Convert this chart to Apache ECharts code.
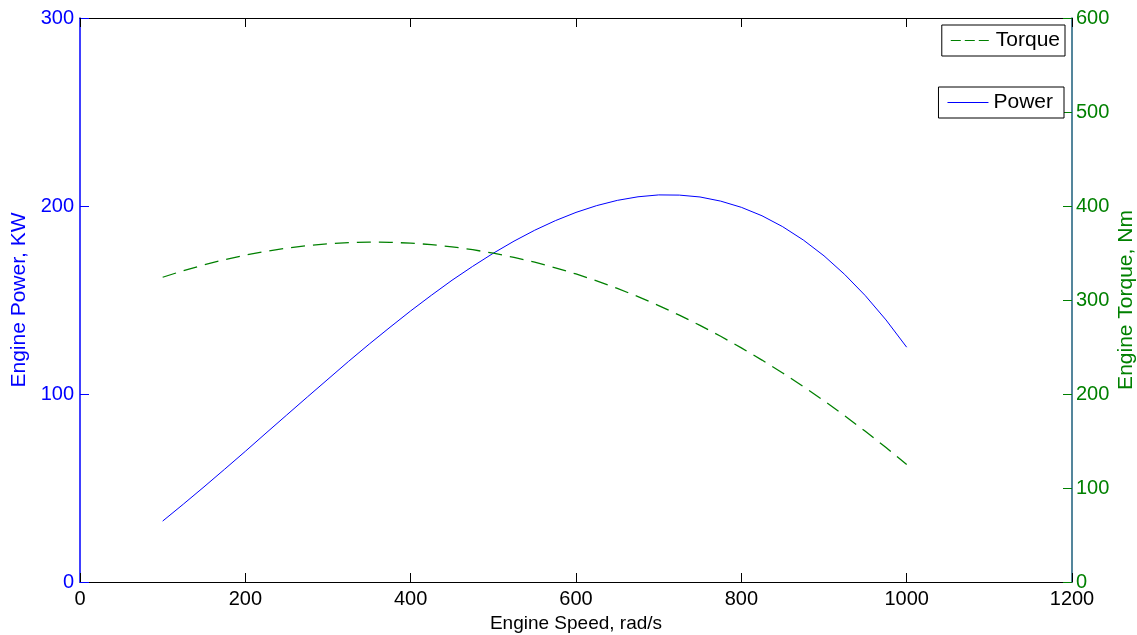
<!DOCTYPE html>
<html>
<head>
<meta charset="utf-8">
<script src="https://cdn.jsdelivr.net/npm/echarts@6/dist/echarts.min.js"></script>
<style>
  html, body { margin: 0; padding: 0; background: #fff; }
  #root { width: 1137px; height: 635px; }
</style>
</head>
<body>
<div id="root"></div>
<script>
// engine speed samples, rad/s
var speeds = [100, 125, 150, 175, 200, 225, 250, 275, 300, 325, 350, 375, 400, 425, 450, 475, 500,
              525, 550, 575, 600, 625, 650, 675, 700, 725, 750, 775, 800, 825, 850, 875, 900, 925, 950, 975, 1000];
// engine power, kW (left axis)
var powerKW = [32.4, 41.4, 50.6, 60.0, 69.5, 79.2, 88.8, 98.4, 107.9, 117.4, 126.6, 135.5, 144.2, 152.5, 160.5, 167.9, 174.9,
               181.3, 187.1, 192.2, 196.6, 200.2, 203.0, 204.9, 205.9, 205.8, 204.8, 202.6, 199.3, 194.8, 189.0, 181.9, 173.5, 163.6, 152.3, 139.4, 124.9];
// engine torque, Nm (right axis)
var torqueNm = [324.2, 331.2, 337.4, 342.9, 347.7, 351.8, 355.2, 357.9, 359.8, 361.1, 361.6, 361.4, 360.5, 358.9, 356.6, 353.5, 349.8,
                345.3, 340.2, 334.3, 327.7, 320.3, 312.3, 303.6, 294.1, 283.9, 273.0, 261.4, 249.1, 236.1, 222.4, 207.9, 192.8, 176.9, 160.3, 143.0, 124.9];

var FONT = '"Liberation Sans", Arial, Helvetica, sans-serif';
var BLUE = '#0000ff';
var GREEN = '#008000';

var chart = echarts.init(document.getElementById('root'));

var powerData = speeds.map(function (w, i) { return [w, powerKW[i]]; });
var torqueData = speeds.map(function (w, i) { return [w, torqueNm[i]]; });

var plain = function (v) { return String(v); };

var option = {
  animation: false,
  backgroundColor: '#fff',
  grid: { left: 80, right: 65, top: 18, bottom: 53, containLabel: false, outerBoundsMode: 'none' },
  legend: [
    {
      data: [{
        name: 'Torque',
        icon: 'path://M0,0H10V1H0Z M14,0H24V1H14Z M28,0H38V1H28Z',
        itemStyle: { color: GREEN }
      }],
      right: 72, top: 25,
      itemWidth: 38, itemHeight: 1.3,
      padding: [5, 5, 5, 9],
      borderColor: '#000', borderWidth: 1,
      backgroundColor: '#fff',
      textStyle: { fontFamily: FONT, fontSize: 21, color: '#000', padding: [0, 0, 0, 2] },
      selectedMode: false
    },
    {
      data: [{
        name: 'Power',
        icon: 'path://M0,0H41V1H0Z',
        itemStyle: { color: BLUE }
      }],
      right: 73, top: 87,
      itemWidth: 41, itemHeight: 1,
      padding: [5, 11, 5, 9],
      borderColor: '#000', borderWidth: 1,
      backgroundColor: '#fff',
      textStyle: { fontFamily: FONT, fontSize: 21, color: '#000' },
      selectedMode: false
    }
  ],
  xAxis: [
    {
      type: 'value', min: 0, max: 1200, interval: 200,
      position: 'bottom',
      name: 'Engine Speed, rad/s', nameLocation: 'middle', nameGap: 29,
      nameTextStyle: { fontFamily: FONT, fontSize: 19, color: '#000' },
      axisLine: { show: true, onZero: false, lineStyle: { color: '#000', width: 1 } },
      axisTick: { show: true, inside: true, length: 9, lineStyle: { color: '#000' } },
      axisLabel: { fontFamily: FONT, fontSize: 20, color: '#000', margin: 7, formatter: plain },
      splitLine: { show: false }
    },
    {
      type: 'value', min: 0, max: 1200, interval: 200,
      position: 'top',
      axisLine: { show: true, onZero: false, lineStyle: { color: '#000', width: 1 } },
      axisTick: { show: true, inside: true, length: 9, lineStyle: { color: '#000' } },
      axisLabel: { show: false },
      splitLine: { show: false }
    }
  ],
  yAxis: [
    {
      type: 'value', min: 0, max: 300, interval: 100,
      position: 'left',
      name: 'Engine Power, KW', nameLocation: 'middle', nameGap: 48,
      nameTextStyle: { fontFamily: FONT, fontSize: 21, color: BLUE },
      axisLine: { show: true, onZero: false, lineStyle: { color: BLUE, width: 1.5 } },
      axisTick: { show: true, inside: true, length: 9, lineStyle: { color: BLUE } },
      axisLabel: { fontFamily: FONT, fontSize: 20, color: BLUE, margin: 6, formatter: plain },
      splitLine: { show: false }
    },
    {
      type: 'value', min: 0, max: 600, interval: 100,
      position: 'right',
      name: 'Engine Torque, Nm', nameLocation: 'middle', nameGap: 44,
      nameMoveOverlap: false,
      nameRotate: 90,
      nameTextStyle: { fontFamily: FONT, fontSize: 21, color: GREEN },
      axisLine: { show: true, onZero: false, lineStyle: { color: '#1b5e7b', width: 1.5 } },
      axisTick: { show: true, inside: true, length: 9, lineStyle: { color: GREEN } },
      axisLabel: { fontFamily: FONT, fontSize: 20, color: GREEN, margin: 4, formatter: plain },
      splitLine: { show: false }
    }
  ],
  series: [
    {
      name: 'Power', type: 'line', xAxisIndex: 0, yAxisIndex: 0,
      data: powerData, smooth: false, symbol: 'none',
      lineStyle: { color: BLUE, width: 1 },
      itemStyle: { color: BLUE }
    },
    {
      name: 'Torque', type: 'line', xAxisIndex: 0, yAxisIndex: 1,
      data: torqueData, smooth: false, symbol: 'none',
      lineStyle: { color: GREEN, width: 1.3, type: [14, 8] },
      itemStyle: { color: GREEN }
    }
  ]
};

option && chart.setOption(option);
</script>
</body>
</html>
